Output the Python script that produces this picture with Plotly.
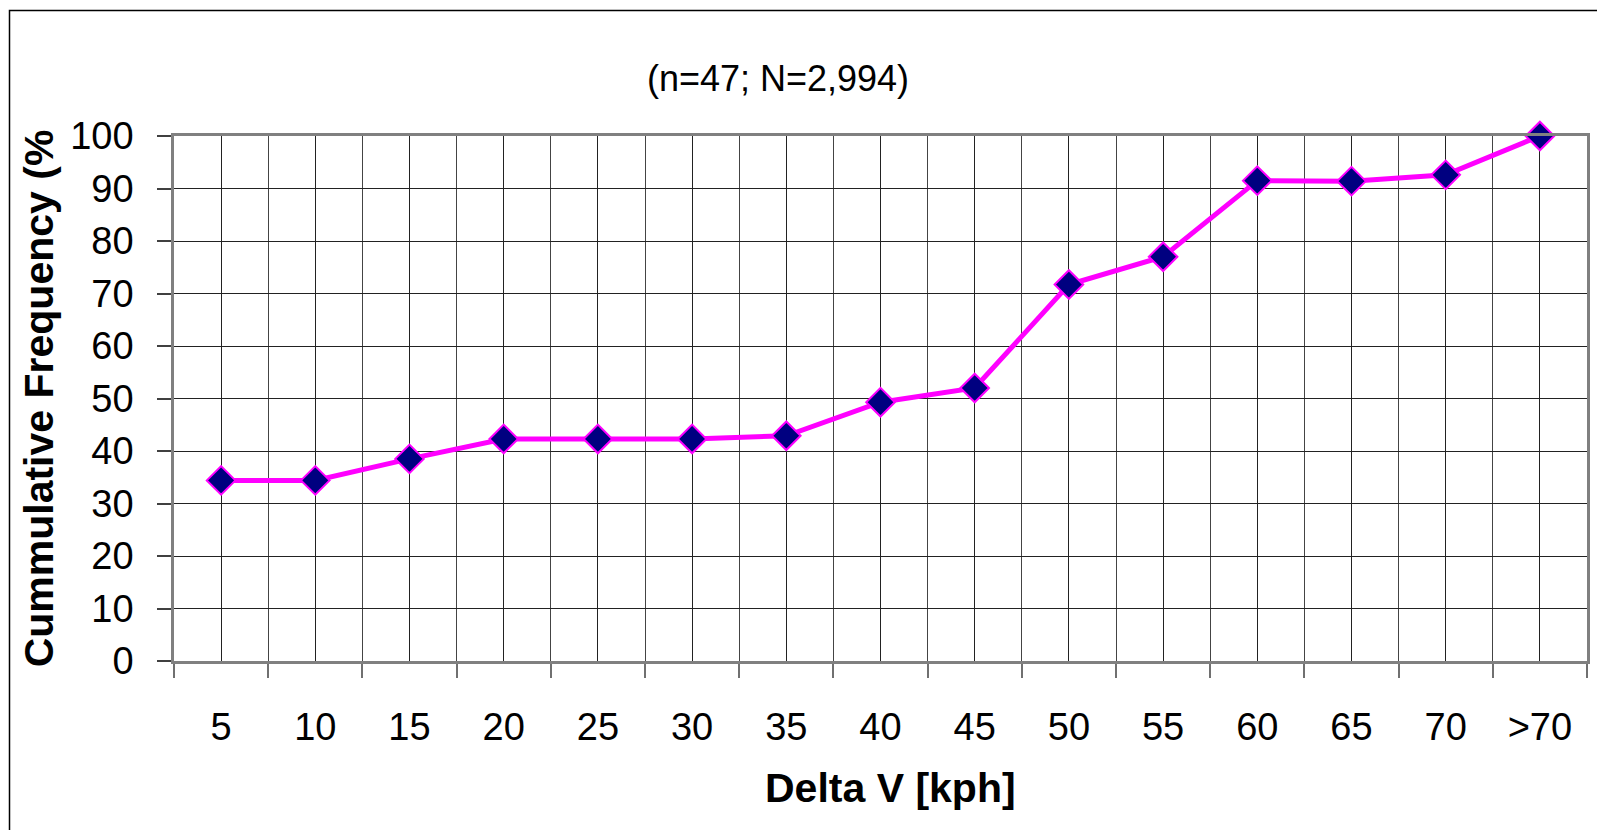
import plotly.graph_objects as go

categories = ["5", "10", "15", "20", "25", "30", "35", "40", "45", "50", "55", "60", "65", "70", ">70"]
cum_freq = [34.4, 34.4, 38.5, 42.3, 42.3, 42.3, 42.9, 49.3, 52.0, 71.7, 77.0, 91.5, 91.4, 92.6, 100.0]
y_ticks = [0, 10, 20, 30, 40, 50, 60, 70, 80, 90, 100]

# the page body adds an 8px offset, so the figure is sized to fit the window
W, H = 1597, 822
ML, MR, MT, MB = 166, 18, 128, 169
FONT = "Liberation Sans, Arial, sans-serif"

x_idx = list(range(len(categories)))

fig = go.Figure()
fig.add_trace(go.Scatter(
    x=x_idx, y=cum_freq, mode="lines+markers",
    line=dict(color="#FF00FF", width=5),
    marker=dict(symbol="diamond", size=22, color="#000080",
                line=dict(color="#FF00FF", width=2)),
    cliponaxis=False, showlegend=False, hoverinfo="x+y",
))

pw = W - ML - MR
ph = H - MT - MB
# outer chart frame (extends past right/bottom of page as in the reference)
fig.add_shape(type="rect", xref="paper", yref="paper",
              x0=(1.5 - ML) / pw, x1=(W + 20 - ML) / pw,
              y0=-(H + 20 - MT - ph) / ph, y1=1 + (MT - 2.5) / ph,
              line=dict(color="#000000", width=1.5), layer="below")

# x-axis title (slightly right of the plot centre, as in the reference)
fig.add_annotation(text="<b>Delta V [kph]</b>", xref="paper", yref="paper",
                   x=0.507, y=-(780 - MT - ph) / ph, xanchor="center", yanchor="middle",
                   showarrow=False, font=dict(size=41, family=FONT, color="#000000"))

fig.update_layout(
    width=W, height=H,
    margin=dict(l=ML, r=MR, t=MT, b=MB, pad=0, autoexpand=False),
    paper_bgcolor="white", plot_bgcolor="white",
    font=dict(family=FONT, color="#000000"),
    title=dict(text="(n=47; N=2,994)", x=770 / W, xanchor="center",
               y=1 - 70 / H, yanchor="middle", xref="container", yref="container",
               automargin=False,
               font=dict(size=36, family=FONT, color="#000000")),
    xaxis=dict(
        range=[-0.5, len(categories) - 0.5],
        tickmode="array", tickvals=x_idx, ticktext=categories,
        ticks="outside", ticklen=14, tickcolor="rgba(0,0,0,0)",
        ticklabelstandoff=17,
        tickfont=dict(size=38, family=FONT, color="#000000"),
        showgrid=True, gridcolor="#222222", gridwidth=1,
        minor=dict(tick0=-0.5, dtick=1, ticks="outside", ticklen=14,
                   tickcolor="#707070", tickwidth=1.5,
                   showgrid=True, gridcolor="#444444", gridwidth=1),
        showline=True, linecolor="#808080", linewidth=2.5, mirror=True,
        zeroline=False, fixedrange=True, automargin=False,
    ),
    yaxis=dict(
        range=[0, 100], tickmode="array", tickvals=y_ticks,
        ticks="outside", ticklen=14, tickcolor="#404040", tickwidth=1.5,
        ticklabelstandoff=16,
        tickfont=dict(size=38, family=FONT, color="#000000"),
        showgrid=True, gridcolor="#222222", gridwidth=1,
        showline=True, linecolor="#808080", linewidth=2.5, mirror=True,
        zeroline=False, fixedrange=True, automargin=False,
        title=dict(text="<b>Cummulative Frequency (%</b>", standoff=4,
                   font=dict(size=41, family=FONT, color="#000000")),
    ),
)

fig.write_html("out.html")
